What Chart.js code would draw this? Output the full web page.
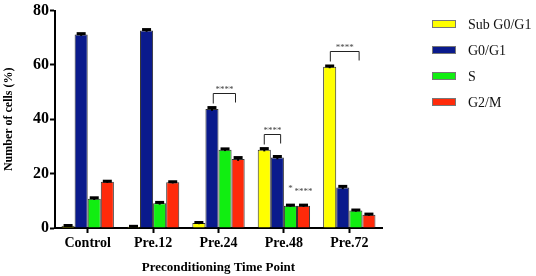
<!DOCTYPE html>
<html lang="en">
<head>
    <meta charset="utf-8">
    <title>Cell cycle by preconditioning time point</title>
    <script src="https://cdn.jsdelivr.net/npm/chart.js"></script>
    <style>
        html, body { margin: 0; padding: 0; background: #fff; }
        #wrap { width: 536px; height: 276px; position: relative; }
    </style>
</head>
<body>
    <div id="wrap"><canvas id="myChart" width="536" height="276"></canvas></div>
    <script>
        // data
        const timePoints = ['Control', 'Pre.12', 'Pre.24', 'Pre.48', 'Pre.72'];
        const subG0G1 = [0.8, 0.5, 1.8, 28.8, 59.3];
        const g0G1 = [71.2, 72.7, 43.8, 25.9, 14.9];
        const sPhase = [10.8, 9.1, 28.8, 8.2, 6.4];
        const g2M = [17.0, 16.8, 25.4, 8.2, 4.9];
        const subG0G1Err = [0.3, 0.3, 0.4, 0.6, 0.5];
        const g0G1Err = [0.5, 0.5, 0.7, 0.6, 0.6];
        const sPhaseErr = [0.5, 0.5, 0.5, 0.4, 0.4];
        const g2MErr = [0.4, 0.4, 0.7, 0.4, 0.4];
        const yTicks = [0, 20, 40, 60, 80];

        // significance marks: category index, bar span (fractional bar index), bracket height, label
        const brackets = [
            { cat: 2, from: 1.1, to: 2.8, y: 49.7, label: '****' },
            { cat: 3, from: 0.0, to: 1.25, y: 34.5, label: '****' },
            { cat: 4, from: 0.05, to: 2.25, y: 65.3, label: '****' }
        ];
        const starLabels = [
            { cat: 3, bar: 2, y: 15.2, label: '*' },
            { cat: 3, bar: 3, y: 14.2, label: '****' }
        ];

        const serif = "'Liberation Serif', 'Times New Roman', serif";

        const errorBars = {
            id: 'errorBars',
            afterDatasetsDraw(chart) {
                const ctx = chart.ctx;
                const y = chart.scales.y;
                ctx.save();
                ctx.strokeStyle = '#000';
                chart.data.datasets.forEach((ds, i) => {
                    const meta = chart.getDatasetMeta(i);
                    meta.data.forEach((bar, j) => {
                        const v = ds.data[j];
                        const e = ds.errors[j];
                        const top = y.getPixelForValue(v + e);
                        const bot = y.getPixelForValue(v - e);
                        ctx.lineWidth = 2;
                        ctx.beginPath();
                        ctx.moveTo(bar.x, bot);
                        ctx.lineTo(bar.x, top);
                        ctx.stroke();
                        ctx.lineWidth = 3;
                        ctx.beginPath();
                        ctx.moveTo(bar.x - 4.5, top + 0.5);
                        ctx.lineTo(bar.x + 4.5, top + 0.5);
                        ctx.stroke();
                    });
                });
                ctx.restore();
            }
        };

        const significance = {
            id: 'significance',
            afterDraw(chart) {
                const ctx = chart.ctx;
                const y = chart.scales.y;
                const barX = (cat, pos) => {
                    const b0 = chart.getDatasetMeta(0).data[cat];
                    const b1 = chart.getDatasetMeta(1).data[cat];
                    const step = b1.x - b0.x;
                    return b0.x + pos * step;
                };
                ctx.save();
                ctx.strokeStyle = '#222';
                ctx.lineWidth = 1;
                ctx.fillStyle = '#444';
                ctx.font = '9px ' + serif;
                ctx.textAlign = 'center';
                ctx.textBaseline = 'bottom';
                brackets.forEach(b => {
                    const x1 = barX(b.cat, b.from);
                    const x2 = barX(b.cat, b.to);
                    const yy = Math.round(y.getPixelForValue(b.y)) + 0.5;
                    ctx.beginPath();
                    ctx.moveTo(x1, yy + 10);
                    ctx.lineTo(x1, yy);
                    ctx.lineTo(x2, yy);
                    ctx.lineTo(x2, yy + 9);
                    ctx.stroke();
                    ctx.fillText(b.label, (x1 + x2) / 2, yy + 1);
                });
                ctx.textBaseline = 'middle';
                starLabels.forEach(s => {
                    ctx.fillText(s.label, barX(s.cat, s.bar), y.getPixelForValue(s.y) + 2);
                });
                ctx.restore();

                // legend
                ctx.save();
                ctx.font = '14px ' + serif;
                ctx.textBaseline = 'middle';
                ctx.textAlign = 'left';
                chart.data.datasets.forEach((ds, i) => {
                    const cy = 24 + i * 26;
                    ctx.fillStyle = ds.backgroundColor;
                    ctx.fillRect(432, cy - 4, 24, 8);
                    ctx.strokeStyle = '#777';
                    ctx.lineWidth = 1;
                    ctx.strokeRect(432.5, cy - 3.5, 23, 7);
                    ctx.fillStyle = '#111';
                    ctx.fillText(ds.label, 468, cy + 1);
                });
                ctx.restore();
            }
        };

        function makeSet(label, data, errors, color) {
            return {
                label: label,
                data: data,
                errors: errors,
                backgroundColor: color,
                borderColor: '#333',
                borderWidth: 1,
                categoryPercentage: 0.8,
                barPercentage: 1.0
            };
        }

        const ctx = document.getElementById('myChart').getContext('2d');
        const chart = new Chart(ctx, {
            type: 'bar',
            data: {
                labels: timePoints,
                datasets: [
                    makeSet('Sub G0/G1', subG0G1, subG0G1Err, '#ffff00'),
                    makeSet('G0/G1', g0G1, g0G1Err, '#0a1a8c'),
                    makeSet('S', sPhase, sPhaseErr, '#11ee11'),
                    makeSet('G2/M', g2M, g2MErr, '#ff2a0a')
                ]
            },
            options: {
                responsive: false,
                animation: false,
                layout: { padding: { top: 10, right: 154, left: 0, bottom: 0 } },
                plugins: {
                    legend: { display: false },
                    tooltip: { enabled: false }
                },
                scales: {
                    x: {
                        afterFit(scale) { scale.height = 48; },
                        border: { display: true, color: '#000', width: 2 },
                        grid: {
                            offset: false,
                            drawOnChartArea: false,
                            drawTicks: true,
                            tickLength: 5,
                            tickWidth: 2,
                            tickColor: '#000'
                        },
                        ticks: {
                            color: '#000',
                            padding: 2,
                            font: { family: serif, size: 14, weight: 'bold' }
                        },
                        title: {
                            display: true,
                            text: 'Preconditioning Time Point',
                            color: '#000',
                            padding: { top: 0, bottom: 1 },
                            font: { family: serif, size: 13, weight: 'bold' }
                        }
                    },
                    y: {
                        min: 0,
                        max: 80,
                        afterFit(scale) { scale.width = 55; },
                        afterBuildTicks(scale) { scale.ticks = yTicks.map(v => ({ value: v })); },
                        border: { display: true, color: '#000', width: 2 },
                        grid: {
                            drawOnChartArea: false,
                            drawTicks: true,
                            tickLength: 5,
                            tickWidth: 2,
                            tickColor: '#000'
                        },
                        ticks: {
                            color: '#000',
                            padding: 1,
                            font: { family: serif, size: 16, weight: 'bold' }
                        },
                        title: {
                            display: true,
                            text: 'Number of cells (%)',
                            color: '#000',
                            padding: { top: 2, bottom: 0 },
                            font: { family: serif, size: 12, weight: 'bold' }
                        }
                    }
                }
            },
            plugins: [errorBars, significance]
        });
    </script>
</body>
</html>
